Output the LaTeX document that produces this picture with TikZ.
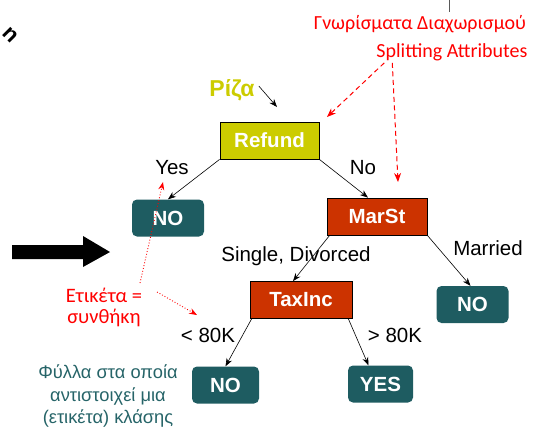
\documentclass[tikz,border=0pt]{standalone}
\usepackage{fontspec}
\setmainfont{Liberation Sans}
\newfontfamily\calfont{Carlito}
\usetikzlibrary{arrows.meta,positioning,calc}
\definecolor{rootolive}{RGB}{204,204,0}
\definecolor{splitred}{RGB}{204,51,0}
\definecolor{leafteal}{RGB}{30,92,97}
\definecolor{notered}{RGB}{255,0,0}
\definecolor{noteteal}{RGB}{38,100,104}

\begin{document}
\begin{tikzpicture}[x=1pt,y=-1pt,
  lbl/.style={font=\fontsize{20.5}{24}\selectfont,inner sep=0pt},
  testbox/.style={draw=black,line width=0.8pt,minimum height=37pt,inner sep=0pt,
    text=white,font=\fontsize{20.5}{24}\selectfont\bfseries},
  leafbox/.style={fill=leafteal,rounded corners=5pt,minimum height=37pt,inner sep=0pt,
    text=white,font=\fontsize{20.5}{24}\selectfont\bfseries},
  edge/.style={-{Stealth[length=8pt,width=6pt]},line width=0.6pt},
  attrarrow/.style={-{Stealth[length=9pt,width=7pt]},notered,dashed,dash pattern=on 5pt off 3.5pt,line width=1pt},
  notearrow/.style={-{Stealth[length=8pt,width=6pt]},notered,dotted,line width=0.9pt}]
\useasboundingbox (0,0) rectangle (539,429);

% tree
\node[testbox,fill=rootolive,minimum width=99pt] (refund) at (269.5,140.5) {Refund};
\node[testbox,fill=splitred,minimum width=100pt] (marst) at (377,216.5) {MarSt};
\node[testbox,fill=splitred,minimum width=102pt] (taxinc) at (301,300) {TaxInc};
\node[leafbox,minimum width=72pt] (noa) at (168,218) {NO};
\node[leafbox,minimum width=72pt] (nob) at (472.5,304.5) {NO};
\node[leafbox,minimum width=67pt] (noc) at (225.5,385) {NO};
\node[leafbox,minimum width=65pt] (yes) at (380.5,384) {YES};

\draw[edge] (refund.south west) -- (noa.north);
\draw[edge] (refund.south east) -- ([xshift=-9pt]marst.north);
\draw[edge] ([xshift=3pt]marst.south west) -- ([xshift=-8pt]taxinc.north);
\draw[edge] (marst.south east) -- ([xshift=-2pt]nob.north);
\draw[edge] ([xshift=2pt]taxinc.south west) -- (noc.north);
\draw[edge] ([xshift=-4pt]taxinc.south east) -- ([xshift=-12pt]yes.north);

\node[lbl] (yeslbl) at (172,168) {Yes};
\node[lbl] (nolbl) at (363,168) {No};
\node[lbl] (sdlbl) at (296,256) {Single, Divorced};
\node[lbl] (marlbl) at (488,248) {Married};
\node[lbl] (ltlbl) at (208,335) {< 80K};
\node[lbl] (gtlbl) at (395,335) {> 80K};

% root pointer
\node[lbl,text=rootolive,font=\fontsize{23}{26}\selectfont\bfseries] (riza) at (232,90) {Ρίζα};
\coordinate (rootptr) at (277,107);
\draw[edge] ([xshift=4pt,yshift=4pt]riza.east) -- (rootptr);

% splitting attributes
\node[text=notered,font=\calfont\fontsize{20}{24}\selectfont,inner sep=0pt] (gnor) at (420,24) {Γνωρίσματα Διαχωρισμού};
\node[text=notered,font=\calfont\fontsize{20}{24}\selectfont,inner sep=0pt] (splt) at (452,52) {Splitting Attributes};
\coordinate (attrtipa) at (327,117);
\coordinate (attrtipb) at (398,182);
\draw[attrarrow] ([xshift=8pt,yshift=-2pt]splt.south west) -- (attrtipa);
\draw[attrarrow] ([xshift=16pt,yshift=-2pt]splt.south west) -- (attrtipb);
\draw[gray!70!black,line width=0.6pt] (449,0) -- (449,12);

% label = condition
\node[text=notered,font=\calfont\fontsize{20.5}{21}\selectfont,align=center,inner sep=0pt] (etik) at (104,307) {Ετικέτα =\\συνθήκη};
\coordinate (condtipa) at (163,182);
\coordinate (condtipb) at (197,315);
\draw[notearrow] (140,283) -- (condtipa);
\draw[notearrow] (157,292) -- (condtipb);

% leaves note
\node[text=noteteal,font=\fontsize{18.3}{22.5}\selectfont,align=center,inner sep=0pt] (fylla) at (108,396) {Φύλλα στα οποία\\αντιστοιχεί μια\\(ετικέτα) κλάσης};

% big arrow and cut-off letter
\fill (12,245) -- (83,245) -- (83,236) -- (110,252) -- (83,267) -- (83,259) -- (12,259) -- cycle;
\node[font=\fontsize{22}{24}\selectfont\bfseries,rotate=-45,inner sep=0pt] (cutn) at (10,35) {n};
\end{tikzpicture}
\end{document}
